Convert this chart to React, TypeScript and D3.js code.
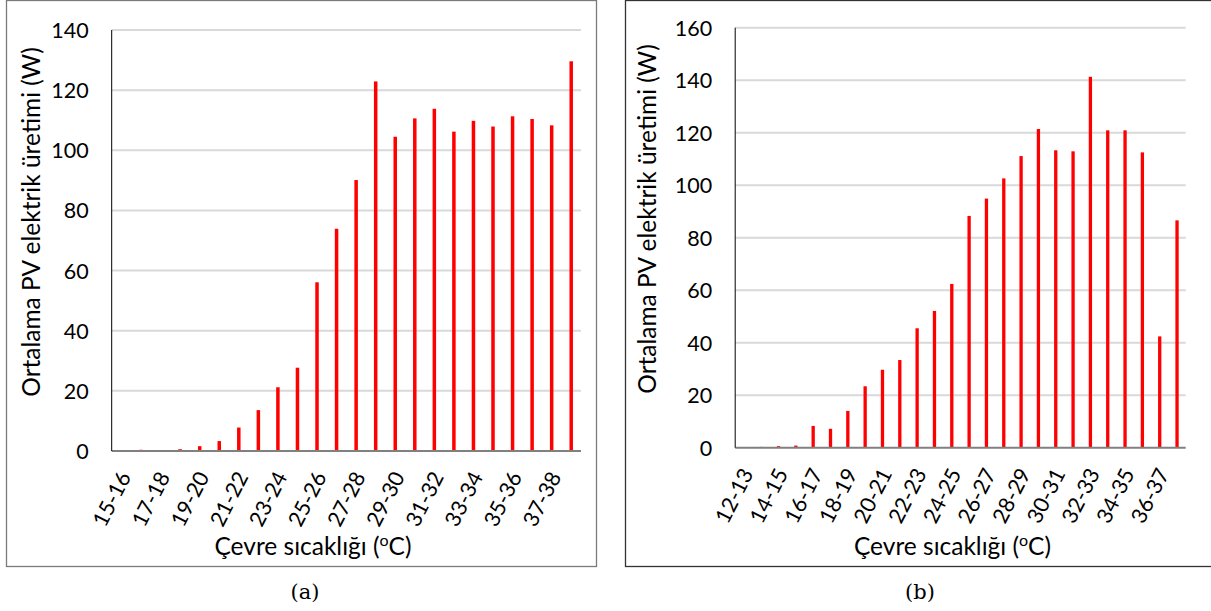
import React from "react";
import * as d3 from "d3";

// ---- data ----
const categoriesA = [
  "15-16", "16-17", "17-18", "18-19", "19-20", "20-21", "21-22", "22-23",
  "23-24", "24-25", "25-26", "26-27", "27-28", "28-29", "29-30", "30-31",
  "31-32", "32-33", "33-34", "34-35", "35-36", "36-37", "37-38", "38-39",
];
const valuesA = [
  0, 0.4, 0.3, 0.6, 1.6, 3.3, 7.8, 13.6, 21.2, 27.7, 56.1, 73.9, 90.1, 122.9,
  104.5, 110.6, 113.8, 106.2, 109.8, 107.9, 111.3, 110.4, 108.3, 129.6,
];
const yTicksA = [0, 20, 40, 60, 80, 100, 120, 140];

const categoriesB = [
  "12-13", "13-14", "14-15", "15-16", "16-17", "17-18", "18-19", "19-20",
  "20-21", "21-22", "22-23", "23-24", "24-25", "25-26", "26-27", "27-28",
  "28-29", "29-30", "30-31", "31-32", "32-33", "33-34", "34-35", "35-36",
  "36-37", "37-38",
];
const valuesB = [
  0.2, 0.3, 0.6, 0.8, 8.3, 7.2, 14.0, 23.4, 29.7, 33.4, 45.5, 52.1, 62.4, 88.3,
  94.9, 102.6, 111.1, 121.4, 113.3, 112.9, 141.3, 120.9, 120.9, 112.5, 42.4,
  86.6,
];
const yTicksB = [0, 20, 40, 60, 80, 100, 120, 140, 160];

const yTitle = "Ortalama PV elektrik üretimi (W)";
const xTitleMain = "Çevre sıcaklığı (";
const xTitleSup = "o";
const xTitleEnd = "C)";
const captionA = "(a)";
const captionB = "(b)";

const FONT = "Lato, 'Open Sans', sans-serif";
const SERIF = "'DejaVu Serif', 'Liberation Serif', serif";

type PanelProps = {
  cats: string[];
  vals: number[];
  ticks: number[];
  box: { x: number; y: number; w: number; h: number; stroke: string };
  plot: { left: number; right: number; top: number; bottom: number };
  barW: number;
  yTitleX: number;
  yTitleY: number;
  xTitleX: number;
  caption: string;
  captionX: number;
};

function Panel(p: PanelProps) {
  const { cats, vals, ticks, box, plot, barW } = p;
  const yMax = ticks[ticks.length - 1];
  const x = d3
    .scaleBand<string>()
    .domain(cats)
    .range([plot.left, plot.right])
    .paddingInner(0)
    .paddingOuter(0);
  const y = d3.scaleLinear().domain([0, yMax]).range([plot.bottom, plot.top]);
  const bw = x.bandwidth();
  return (
    <g>
      <rect
        x={box.x}
        y={box.y}
        width={box.w}
        height={box.h}
        fill="#fff"
        stroke={box.stroke}
        strokeWidth={1.3}
      />
      {ticks
        .filter((t) => t !== 0)
        .map((t) => (
          <line
            key={"g" + t}
            x1={plot.left}
            x2={plot.right}
            y1={y(t)}
            y2={y(t)}
            stroke="#d9d9d9"
            strokeWidth={2}
          />
        ))}
      {vals.map((v, i) => {
        const cx = (x(cats[i]) as number) + bw / 2;
        return (
          <rect
            key={"b" + i}
            x={cx - barW / 2}
            y={y(v)}
            width={barW}
            height={Math.max(0, y(0) - y(v))}
            fill="#ff0000"
          />
        );
      })}
      <line
        x1={plot.left}
        x2={plot.right}
        y1={y(0)}
        y2={y(0)}
        stroke="#808080"
        strokeWidth={2}
      />
      <line
        x1={plot.left}
        x2={plot.left}
        y1={y(yMax)}
        y2={y(0)}
        stroke="#000"
        strokeWidth={1}
      />
      {ticks.map((t) => (
        <text
          key={"t" + t}
          x={plot.left - 23}
          y={y(t)}
          textAnchor="end"
          dominantBaseline="central"
          fontFamily={FONT}
          fontSize={21.5}
          fill="#000"
        >
          {t}
        </text>
      ))}
      {cats.map((c, i) => {
        if (i % 2 !== 0) return null;
        const cx = (x(c) as number) + bw / 2;
        return (
          <text
            key={"c" + i}
            transform={`translate(${cx + 3},${plot.bottom + 22}) rotate(-63)`}
            textAnchor="end"
            dominantBaseline="central"
            fontFamily={FONT}
            fontSize={21.5}
            fill="#000"
          >
            {c}
          </text>
        );
      })}
      <text
        transform={`translate(${p.yTitleX},${p.yTitleY}) rotate(-90)`}
        textAnchor="middle"
        fontFamily={FONT}
        fontSize={24.5}
        fill="#000"
      >
        {yTitle}
      </text>
      <text
        x={p.xTitleX}
        y={555}
        textAnchor="middle"
        fontFamily={FONT}
        fontSize={24.5}
        fill="#000"
      >
        {xTitleMain}
        <tspan fontSize={16} dy={-9}>
          {xTitleSup}
        </tspan>
        <tspan dy={9}>{xTitleEnd}</tspan>
      </text>
      <text
        x={p.captionX}
        y={599}
        textAnchor="middle"
        fontFamily={SERIF}
        fontSize={21}
        fill="#000"
      >
        {p.caption}
      </text>
    </g>
  );
}

export default function App() {
  return (
    <svg
      width={1211}
      height={611}
      style={{ position: "absolute", left: 0, top: 0, display: "block", background: "#fff" }}
    >
      <Panel
        cats={categoriesA}
        vals={valuesA}
        ticks={yTicksA}
        box={{ x: 6.5, y: 0.5, w: 590, h: 566, stroke: "#7a7a7a" }}
        plot={{ left: 111.7, right: 581, top: 30, bottom: 451 }}
        barW={3.5}
        yTitleX={40}
        yTitleY={222}
        xTitleX={313}
        caption={captionA}
        captionX={305}
      />
      <Panel
        cats={categoriesB}
        vals={valuesB}
        ticks={yTicksB}
        box={{ x: 625.5, y: 0.5, w: 620, h: 566, stroke: "#333333" }}
        plot={{ left: 735.2, right: 1185.7, top: 27.7, bottom: 447.7 }}
        barW={3.3}
        yTitleX={656}
        yTitleY={219}
        xTitleX={952.5}
        caption={captionB}
        captionX={920}
      />
    </svg>
  );
}
